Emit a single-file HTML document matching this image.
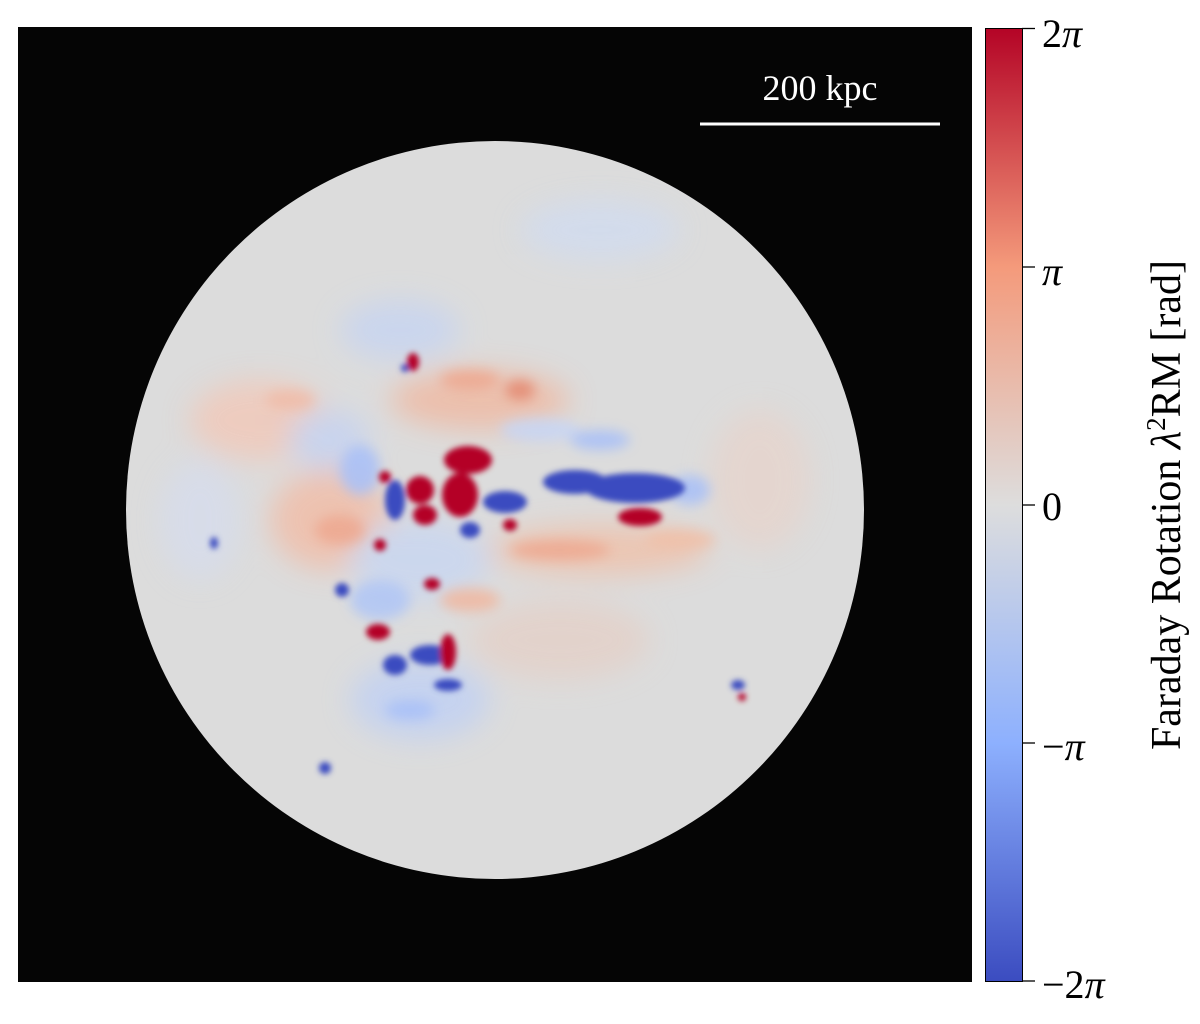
<!DOCTYPE html>
<html><head><style>
body{margin:0;background:#fff;width:1200px;height:1019px;overflow:hidden;font-family:"Liberation Serif",serif;}
</style></head><body>
<svg width="1200" height="1019" viewBox="0 0 1200 1019" xmlns="http://www.w3.org/2000/svg">
<defs>
<linearGradient id="cb" x1="0" y1="1" x2="0" y2="0">
<stop offset="0" stop-color="#3b4cc0"/>
<stop offset="0.25" stop-color="#8db0fe"/>
<stop offset="0.5" stop-color="#dddddd"/>
<stop offset="0.75" stop-color="#f49a7b"/>
<stop offset="1" stop-color="#b40426"/>
</linearGradient>
<filter id="b1" x="-50%" y="-50%" width="200%" height="200%"><feGaussianBlur stdDeviation="14"/></filter>
<filter id="b3" x="-50%" y="-50%" width="200%" height="200%"><feGaussianBlur stdDeviation="6"/></filter>
<filter id="b2" x="-50%" y="-50%" width="200%" height="200%"><feGaussianBlur stdDeviation="3"/></filter>
<clipPath id="cc"><circle cx="495" cy="510" r="369"/></clipPath>
</defs>
<rect x="18" y="27" width="954" height="955" fill="#050505"/>
<circle cx="495" cy="510" r="369" fill="#dcdcdc"/>
<g clip-path="url(#cc)">
<g filter="url(#b1)" opacity="0.8">
<ellipse cx="480" cy="400" rx="90" ry="30" fill="#f0b8a0"/>
<ellipse cx="260" cy="420" rx="70" ry="40" fill="#f2c8b8"/>
<ellipse cx="330" cy="520" rx="60" ry="50" fill="#f2bca6"/>
<ellipse cx="600" cy="550" rx="110" ry="25" fill="#f0c0a8"/>
<ellipse cx="400" cy="330" rx="60" ry="30" fill="#c6d4f2"/>
<ellipse cx="600" cy="230" rx="80" ry="30" fill="#d0dbf0"/>
<ellipse cx="420" cy="700" rx="70" ry="40" fill="#c0d0f4"/>
<ellipse cx="420" cy="560" rx="70" ry="40" fill="#c8d6f2"/>
<ellipse cx="560" cy="640" rx="90" ry="40" fill="#e4d0c8"/>
<ellipse cx="760" cy="480" rx="50" ry="70" fill="#e6d4cc"/>
<ellipse cx="200" cy="520" rx="40" ry="60" fill="#d6dcec"/>
<ellipse cx="330" cy="440" rx="40" ry="30" fill="#c4d2f2"/>
</g>
<g filter="url(#b3)" opacity="0.85">
<ellipse cx="540" cy="430" rx="40" ry="12" fill="#c8d6f4"/>
<ellipse cx="600" cy="440" rx="30" ry="10" fill="#a8c0f8"/>
<ellipse cx="470" cy="380" rx="30" ry="10" fill="#eea890"/>
<ellipse cx="360" cy="470" rx="20" ry="25" fill="#a8c0f8"/>
<ellipse cx="340" cy="530" rx="25" ry="15" fill="#eea890"/>
<ellipse cx="560" cy="550" rx="50" ry="10" fill="#eea890"/>
<ellipse cx="680" cy="540" rx="35" ry="10" fill="#f0c0a8"/>
<ellipse cx="380" cy="600" rx="30" ry="20" fill="#b0c6f6"/>
<ellipse cx="470" cy="600" rx="30" ry="12" fill="#f0b8a0"/>
<ellipse cx="520" cy="390" rx="15" ry="10" fill="#e48870"/>
<ellipse cx="290" cy="400" rx="25" ry="10" fill="#f0bca8"/>
<ellipse cx="690" cy="490" rx="20" ry="15" fill="#a8c0f8"/>
<ellipse cx="410" cy="710" rx="25" ry="10" fill="#a8c0f8"/>
</g>
<g filter="url(#b2)">
<ellipse cx="635" cy="488" rx="50" ry="15" fill="#3b4cc0"/>
<ellipse cx="575" cy="482" rx="32" ry="12" fill="#3b4cc0"/>
<ellipse cx="505" cy="502" rx="22" ry="11" fill="#3b4cc0"/>
<ellipse cx="395" cy="500" rx="10" ry="20" fill="#3b4cc0"/>
<ellipse cx="470" cy="530" rx="10" ry="8" fill="#3b4cc0"/>
<ellipse cx="430" cy="655" rx="20" ry="10" fill="#3b4cc0"/>
<ellipse cx="395" cy="665" rx="12" ry="10" fill="#3b4cc0"/>
<ellipse cx="448" cy="685" rx="14" ry="6" fill="#3b4cc0"/>
<circle cx="342" cy="590" r="7" fill="#3b4cc0"/>
<circle cx="325" cy="768" r="6" fill="#3b4cc0"/>
<ellipse cx="738" cy="685" rx="7" ry="5" fill="#3b4cc0"/>
<ellipse cx="214" cy="543" rx="4" ry="6" fill="#3b4cc0"/>
<circle cx="405" cy="368" r="4" fill="#3b4cc0"/>
<ellipse cx="468" cy="460" rx="24" ry="14" fill="#b40426"/>
<ellipse cx="460" cy="495" rx="18" ry="22" fill="#b40426"/>
<ellipse cx="420" cy="490" rx="14" ry="14" fill="#b40426"/>
<ellipse cx="425" cy="515" rx="12" ry="10" fill="#b40426"/>
<ellipse cx="640" cy="517" rx="22" ry="9" fill="#b40426"/>
<ellipse cx="413" cy="362" rx="6" ry="9" fill="#b40426"/>
<ellipse cx="448" cy="652" rx="8" ry="18" fill="#b40426"/>
<ellipse cx="378" cy="632" rx="12" ry="8" fill="#b40426"/>
<circle cx="742" cy="697" r="4" fill="#b40426"/>
<ellipse cx="432" cy="584" rx="8" ry="6" fill="#b40426"/>
<ellipse cx="385" cy="477" rx="6" ry="6" fill="#b40426"/>
<ellipse cx="510" cy="525" rx="7" ry="6" fill="#b40426"/>
<ellipse cx="380" cy="545" rx="6" ry="6" fill="#b40426"/>
</g>
</g>
<line x1="700" y1="124" x2="940" y2="124" stroke="#fff" stroke-width="3"/>
<text x="820" y="100" fill="#fff" font-size="36" text-anchor="middle" font-family="Liberation Serif,serif">200 kpc</text>
<rect x="985.5" y="28.5" width="37" height="953" fill="url(#cb)" stroke="#000" stroke-width="1"/>
<g stroke="#000" stroke-width="1.3">
<line x1="1022" y1="28.5" x2="1035" y2="28.5"/><line x1="1022" y1="267" x2="1035" y2="267"/>
<line x1="1022" y1="505" x2="1035" y2="505"/><line x1="1022" y1="743" x2="1035" y2="743"/>
<line x1="1022" y1="981" x2="1035" y2="981"/>
</g>
<g font-size="40" font-family="Liberation Serif,serif">
<text x="1042" y="47">2<tspan font-style="italic">π</tspan></text>
<text x="1042" y="285" font-style="italic">π</text>
<text x="1042" y="520">0</text>
<text x="1042" y="760">−<tspan font-style="italic">π</tspan></text>
<text x="1042" y="998">−2<tspan font-style="italic">π</tspan></text>
</g>
<text transform="translate(1180,505) rotate(-90)" text-anchor="middle" font-size="42" font-family="Liberation Serif,serif">Faraday Rotation <tspan font-style="italic">λ</tspan><tspan font-size="27" dy="-15">2</tspan><tspan dy="15">RM [rad]</tspan></text>
</svg>
</body></html>
